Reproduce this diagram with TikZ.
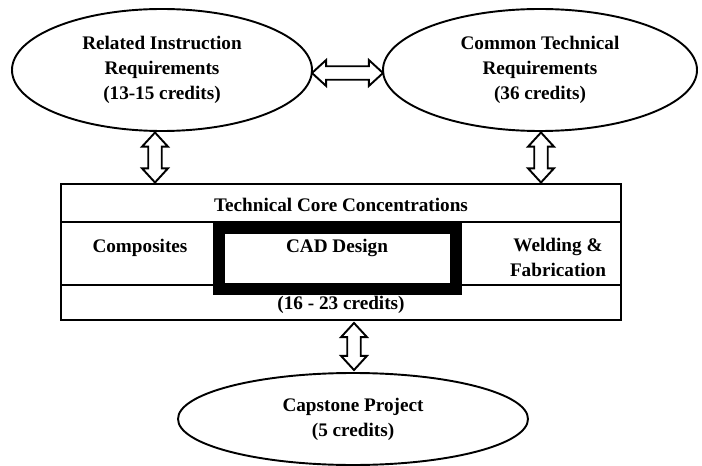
\documentclass[tikz,border=0pt]{standalone}
\usepackage{fontspec}
\setmainfont{Liberation Serif}
\usetikzlibrary{positioning,calc,shapes.geometric,shapes.arrows}
\tikzset{
  req/.style={ellipse, draw, line width=1.2pt, inner sep=0pt, outer sep=0pt,
              align=center, font=\bfseries\fontsize{12pt}{15.6pt}\selectfont},
  link/.style={double arrow, draw, line width=1.2pt, inner sep=3.6pt, outer sep=0pt,
               double arrow head extend=3.9pt, double arrow tip angle=85},
  txt/.style={inner sep=0pt, align=center, font=\bfseries\fontsize{12pt}{15.6pt}\selectfont},
  corebox/.style={draw, line width=1.2pt, inner sep=0pt, outer sep=0pt},
  cadbox/.style={draw, line width=7.5pt, inner sep=0pt, outer sep=0pt},
  rule/.style={line width=1.2pt},
}
\begin{document}
\begin{tikzpicture}[x=0.625pt, y=-0.625pt]
  \useasboundingbox (0,0) rectangle (702,466);
  \node[req, minimum width=187.5pt, minimum height=76.25pt] (rel) at (162,70)
    {Related Instruction\\Requirements\\(13-15 credits)};
  \node[req, minimum width=196.25pt, minimum height=76.25pt] (com) at (540,70)
    {Common Technical\\Requirements\\(36 credits)};
  \node[corebox, minimum width=350pt, minimum height=85pt] (core) at (341,252) {};
  \coordinate (r1) at (0,222);
  \coordinate (r2) at (0,285);
  \draw[rule] (core.west |- r1) -- (core.east |- r1);
  \draw[rule] (core.west |- r2) -- (core.east |- r2);
  \node[cadbox, minimum width=148pt, minimum height=38pt] (cad) at (337.5,258.5) {};
  \node[txt] (tcc) at (341,205) {Technical Core Concentrations};
  \node[txt] (comp) at (140,248) {Composites};
  \node[txt] (cadt) at (337,248) {CAD Design};
  \node[txt] (weld) at (558,257) {Welding \&\\Fabrication};
  \node[txt] (cred) at (341,305) {(16 - 23 credits)};
  \node[req, minimum width=218.75pt, minimum height=57.5pt] (cap) at (353,419)
    {Capstone Project\\(5 credits)};
  \node[link, minimum height=44.4pt] (hlink) at ($(rel.east)!0.5!(com.west)+(0,3)$) {};
  \node[link, shape border rotate=90, minimum height=31.25pt] (llink)
    at ($(rel.south)!0.5!(rel.south |- core.north)+(-7,0)$) {};
  \node[link, shape border rotate=90, minimum height=31.25pt] (rlink)
    at ($(com.south)!0.5!(com.south |- core.north)+(1,0)$) {};
  \node[link, shape border rotate=90, minimum height=29.4pt] (blink)
    at ($(core.south)!0.5!(cap.north)+(7,0)$) {};
\end{tikzpicture}
\end{document}
